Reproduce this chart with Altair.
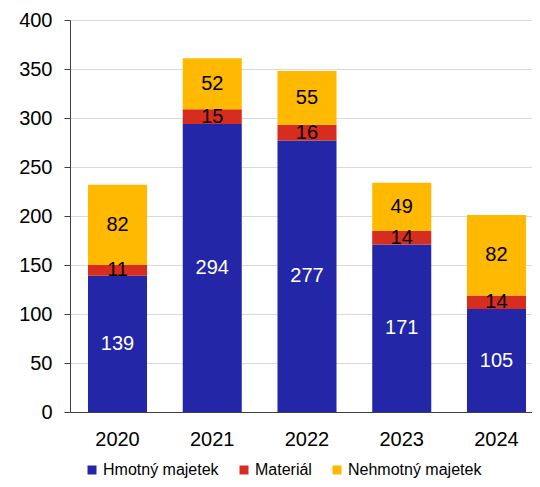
import altair as alt
import pandas as pd

years = ["2020", "2021", "2022", "2023", "2024"]
categories = ["Hmotný majetek", "Materiál", "Nehmotný majetek"]
hmotny = [139, 294, 277, 171, 105]
material = [11, 15, 16, 14, 14]
nehmotny = [82, 52, 55, 49, 82]
colors = ["#2326A6", "#D62D1F", "#FFB900"]
y_ticks = [0, 50, 100, 150, 200, 250, 300, 350, 400]

series = [hmotny, material, nehmotny]
rows = []
for i, yr in enumerate(years):
    for j, cat in enumerate(categories):
        rows.append({"year": yr, "cat": cat, "value": series[j][i], "order": j})
df = pd.DataFrame(rows)

FONT = "Liberation Sans"

base = (
    alt.Chart(df)
    .transform_stack(stack="value", groupby=["year"], sort=[alt.SortField("order", order="ascending")], as_=["v0", "v1"])
    .transform_calculate(mid="(datum.v0 + datum.v1) / 2")
)

x_enc = alt.X(
    "year:N",
    title=None,
    sort=years,
    scale=alt.Scale(paddingInner=0.377, paddingOuter=0.1266, align=0.75),
    axis=alt.Axis(labelAngle=0, ticks=False, labelPadding=17, labelFontSize=20,
                  labelColor="black", labelFont=FONT, domainColor="#404040", grid=False),
)

bars = base.mark_bar().encode(
    x=x_enc,
    y=alt.Y(
        "v0:Q",
        title=None,
        scale=alt.Scale(domain=[0, 400]),
        axis=alt.Axis(values=y_ticks, labelFontSize=20, labelFont=FONT, labelColor="black",
                      labelPadding=12, tickSize=6, tickColor="#404040", domainColor="#404040",
                      gridColor="#d9d9d9", grid=True),
    ),
    y2="v1:Q",
    color=alt.Color(
        "cat:N",
        scale=alt.Scale(domain=categories, range=colors),
        legend=alt.Legend(
            title=None, orient="none", legendX=14, legendY=442, direction="horizontal",
            symbolType="square", symbolSize=81, symbolStrokeWidth=0,
            labelFontSize=16, labelFont=FONT, labelColor="black",
            columnPadding=17, labelOffset=3,
        ),
    ),
    order=alt.Order("order:Q"),
)

text_white = base.transform_filter("datum.order == 0").mark_text(
    fontSize=20, font=FONT, color="white", baseline="middle"
).encode(x=alt.X("year:N", sort=years), y="mid:Q", text="value:Q")

text_black = base.transform_filter("datum.order != 0").mark_text(
    fontSize=20, font=FONT, color="black", baseline="middle"
).encode(x=alt.X("year:N", sort=years), y="mid:Q", text="value:Q")

chart = (
    alt.layer(bars, text_white, text_black)
    .properties(
        width=462,
        height=392,
        autosize=alt.AutoSizeParams(type="none"),
        padding={"left": 62, "top": 12, "right": 0, "bottom": 67},
    )
    .configure_view(stroke=None)
)

chart.save("out.html", embed_options={"renderer": "svg", "actions": False})
